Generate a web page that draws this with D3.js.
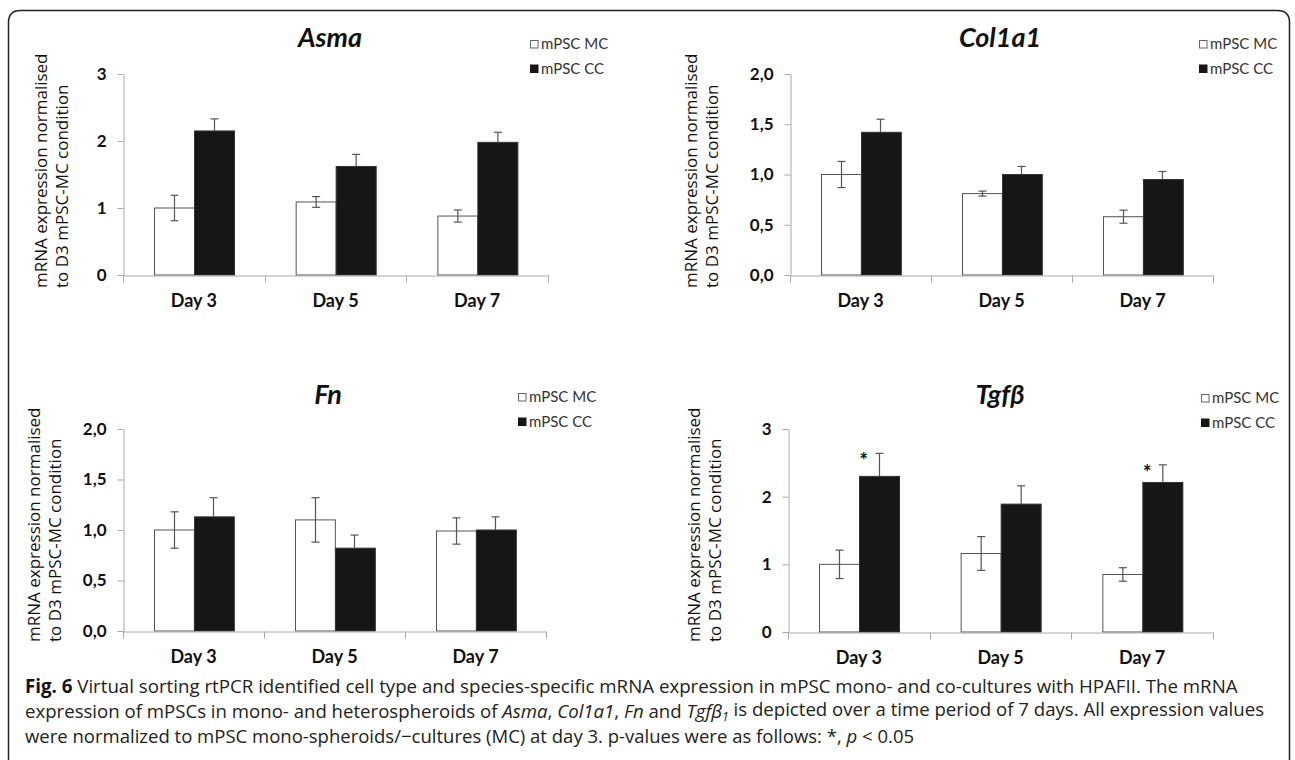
<!DOCTYPE html>
<html>
<head>
<script src="https://d3js.org/d3.v7.min.js"></script>
<style>
    body { margin: 0; background: #fff; }
    .tick text { font-family: Lato, "Open Sans", sans-serif; font-weight: bold; fill: #111; }
    .y-axis .tick text { font-size: 17px; }
    .x-axis .tick text { font-size: 18px; }
    .panel-title { font-family: Lato, sans-serif; font-weight: bold; font-style: italic; font-size: 27px; fill: #111; text-anchor: middle; }
    .legend text { font-family: Lato, sans-serif; font-size: 15px; fill: #333; }
    .y-title { font-family: "Open Sans", sans-serif; font-size: 17px; fill: #111; }
    .caption { font-family: "Open Sans", sans-serif; fill: #222; }
    .star { font-family: Lato, sans-serif; font-weight: bold; font-size: 21px; fill: #111; text-anchor: middle; }
</style>
</head>
<body>
<svg width="1295" height="760"></svg>
<script>
    // categories and series
    const days = ["Day 3", "Day 5", "Day 7"];
    const groups = ["mPSC MC", "mPSC CC"];
    const yTitle = ["mRNA expression normalised", "to D3 mPSC-MC condition"];

    // values (mean, error)
    const asmaMC = [1.00, 1.09, 0.88];
    const asmaMCErr = [0.19, 0.08, 0.09];
    const asmaCC = [2.15, 1.62, 1.98];
    const asmaCCErr = [0.18, 0.18, 0.15];

    const col1a1MC = [1.00, 0.81, 0.58];
    const col1a1MCErr = [0.13, 0.025, 0.065];
    const col1a1CC = [1.42, 1.00, 0.95];
    const col1a1CCErr = [0.13, 0.08, 0.08];

    const fnMC = [1.00, 1.10, 0.99];
    const fnMCErr = [0.18, 0.22, 0.13];
    const fnCC = [1.13, 0.82, 1.00];
    const fnCCErr = [0.19, 0.13, 0.13];

    const tgfbMC = [1.00, 1.16, 0.85];
    const tgfbMCErr = [0.21, 0.25, 0.10];
    const tgfbCC = [2.30, 1.89, 2.21];
    const tgfbCCErr = [0.34, 0.27, 0.26];
    const tgfbStars = ["Day 3", "Day 7"];

    // tick labels
    const ticks3 = [0, 1, 2, 3];
    const ticks2 = [0, 0.5, 1, 1.5, 2];

    const comma = d3.formatLocale({decimal: ",", thousands: ".", grouping: [3], currency: ["", ""]});
    const fmtInt = d3.format("d");
    const fmtDec = comma.format(".1f");

    const panels = [
        {title: "Asma", mc: asmaMC, mcErr: asmaMCErr, cc: asmaCC, ccErr: asmaCCErr, ticks: ticks3, fmt: fmtInt, stars: [],
         left: 123, right: 548, top: 74, zero: 275, titleX: 330, titleY: 47, legX: 530, legY: 44, ytX: [40, 61], ytY: 288},
        {title: "Col1a1", mc: col1a1MC, mcErr: col1a1MCErr, cc: col1a1CC, ccErr: col1a1CCErr, ticks: ticks2, fmt: fmtDec, stars: [],
         left: 790, right: 1213, top: 74, zero: 275, titleX: 1000, titleY: 47, legX: 1199, legY: 44, ytX: [690, 711], ytY: 288},
        {title: "Fn", mc: fnMC, mcErr: fnMCErr, cc: fnCC, ccErr: fnCCErr, ticks: ticks2, fmt: fmtDec, stars: [],
         left: 123, right: 546, top: 429, zero: 631, titleX: 328, titleY: 404, legX: 518, legY: 397, ytX: [33, 54], ytY: 642},
        {title: "Tgfβ", mc: tgfbMC, mcErr: tgfbMCErr, cc: tgfbCC, ccErr: tgfbCCErr, ticks: ticks3, fmt: fmtInt, stars: tgfbStars,
         left: 788, right: 1213, top: 429, zero: 632, titleX: 1000, titleY: 404, legX: 1201, legY: 398, ytX: [693, 714], ytY: 642}
    ];

    const svg = d3.select("svg");

    // rounded frame round the figure
    const fr = {l: 8.5, t: 10.5, r: 1289.5, b: 775, rad: 12};
    svg.append("path")
        .attr("d", `M${fr.l},${fr.b} V${fr.t + fr.rad} Q${fr.l},${fr.t} ${fr.l + fr.rad},${fr.t} H${fr.r - fr.rad} Q${fr.r},${fr.t} ${fr.r},${fr.t + fr.rad} V${fr.b}`)
        .attr("fill", "none")
        .attr("stroke", "#222")
        .attr("stroke-width", 1.5);

    panels.forEach(function(p) {
        const g = svg.append("g");
        const x = d3.scaleBand().domain(days).range([p.left, p.right]).padding(0);
        const inner = d3.scaleBand().domain(groups).range([0, x.bandwidth()]).paddingInner(0).paddingOuter(0.77);
        const y = d3.scaleLinear().domain([0, d3.max(p.ticks)]).range([p.zero, p.top]);

        const rows = days.map((d, i) => ({day: d, vals: [
            {grp: groups[0], v: p.mc[i], e: p.mcErr[i]},
            {grp: groups[1], v: p.cc[i], e: p.ccErr[i]}
        ]}));

        // Y axis
        const ya = g.append("g")
            .attr("class", "y-axis")
            .attr("transform", `translate(${p.left + 0.5},0)`)
            .call(d3.axisLeft(y).tickValues(p.ticks).tickFormat(p.fmt).tickSize(6).tickSizeOuter(0).tickPadding(11));
        ya.select(".domain").attr("stroke", "#a8a8a8");
        ya.selectAll(".tick line").attr("stroke", "#a8a8a8");

        // bars
        const cat = g.selectAll(".cat").data(rows).enter().append("g")
            .attr("transform", d => `translate(${x(d.day)},0)`);

        cat.selectAll("rect").data(d => d.vals).enter().append("rect")
            .attr("x", d => Math.round(inner(d.grp)) + 0.5)
            .attr("y", d => y(d.v))
            .attr("width", inner.bandwidth())
            .attr("height", d => y(0) - y(d.v))
            .attr("fill", d => d.grp === groups[0] ? "#fff" : "#161616")
            .attr("stroke", d => d.grp === groups[0] ? "#555" : "#333")
            .attr("stroke-width", 1);

        // error bars (CC only upward, lower part hidden by dark bar)
        const eb = cat.selectAll(".err").data(d => d.vals).enter().append("g")
            .attr("stroke", "#555").attr("stroke-width", 1.2);
        const cx = d => Math.round(inner(d.grp) + inner.bandwidth() / 2) + 0.5;
        const lo = d => d.grp === groups[0] ? y(d.v - d.e) : y(d.v);
        eb.append("line")
            .attr("x1", cx).attr("x2", cx)
            .attr("y1", d => y(d.v + d.e)).attr("y2", lo);
        eb.append("line")
            .attr("x1", d => cx(d) - 4).attr("x2", d => cx(d) + 4)
            .attr("y1", d => y(d.v + d.e)).attr("y2", d => y(d.v + d.e));
        eb.filter(d => d.grp === groups[0]).append("line")
            .attr("x1", d => cx(d) - 4).attr("x2", d => cx(d) + 4)
            .attr("y1", d => y(d.v - d.e)).attr("y2", d => y(d.v - d.e));

        // significance stars
        cat.filter(d => p.stars.includes(d.day))
            .append("text")
            .attr("class", "star")
            .attr("x", d => inner(groups[1]) + inner.bandwidth() / 2 - 15)
            .attr("y", d => y(d.vals[1].v + d.vals[1].e) + 15)
            .text("*");

        // X axis
        const xa = g.append("g")
            .attr("class", "x-axis")
            .attr("transform", `translate(0,${p.zero + 0.5})`)
            .call(d3.axisBottom(x).tickSize(0).tickPadding(19));
        xa.select(".domain").attr("stroke", "#a8a8a8");
        const bounds = days.map(d => x(d)).concat([x(days[days.length - 1]) + x.bandwidth()]);
        xa.selectAll(".bound").data(bounds).enter().append("line")
            .attr("x1", d => Math.round(d) + 0.5).attr("x2", d => Math.round(d) + 0.5)
            .attr("y1", 0).attr("y2", 7)
            .attr("stroke", "#a8a8a8");

        // title
        g.append("text")
            .attr("class", "panel-title")
            .attr("x", p.titleX)
            .attr("y", p.titleY)
            .text(p.title);

        // legend
        const leg = g.selectAll(".legend").data(groups).enter().append("g")
            .attr("class", "legend")
            .attr("transform", (d, i) => `translate(${p.legX},${p.legY + i * 24.5})`);
        leg.append("rect")
            .attr("x", 0.5).attr("y", -3.5)
            .attr("width", 7.5).attr("height", 7.5)
            .attr("fill", (d, i) => i === 0 ? "#fff" : "#161616")
            .attr("stroke", (d, i) => i === 0 ? "#666" : "#161616");
        leg.append("text")
            .attr("x", 11)
            .attr("y", 5)
            .text(d => d);

        // y title, two lines, start aligned at bottom
        yTitle.forEach(function(t, i) {
            g.append("text")
                .attr("class", "y-title")
                .attr("transform", `translate(${p.ytX[i]},${p.ytY}) rotate(-90)`)
                .attr("dominant-baseline", "central")
                .attr("text-anchor", "start")
                .text(t);
        });
    });

    // caption
    const capLines = [
        [{t: "Fig. 6", b: 1}, {t: " Virtual sorting rtPCR identified cell type and species-specific mRNA expression in mPSC mono- and co-cultures with HPAFII. The mRNA"}],
        [{t: "expression of mPSCs in mono- and heterospheroids of "}, {t: "Asma", i: 1}, {t: ", "}, {t: "Col1a1", i: 1}, {t: ", "}, {t: "Fn", i: 1},
         {t: " and "}, {t: "Tgfβ", i: 1}, {t: "1", i: 1, sub: 1}, {t: " is depicted over a time period of 7 days. All expression values"}],
        [{t: "were normalized to mPSC mono-spheroids/−cultures (MC) at day 3. p-values were as follows: *, "}, {t: "p", i: 1}, {t: " < 0.05"}]
    ];
    const capY = [693, 718, 743];
    const capW = [1213, 1240, 890];

    capLines.forEach(function(parts, li) {
        const txt = svg.append("text")
            .attr("class", "caption")
            .attr("x", 25)
            .attr("y", capY[li])
            .style("font-size", "16px");
        parts.forEach(function(s) {
            const ts = txt.append("tspan").text(s.t);
            if (s.b) ts.attr("font-weight", "bold").attr("fill", "#111");
            if (s.i) ts.attr("font-style", "italic");
            if (s.sub) ts.attr("font-size", "0.65em").attr("dy", "0.25em");
        });
        // fit the line to the width it takes in the figure
        const w = txt.node().getComputedTextLength();
        txt.style("font-size", (16 * capW[li] / w).toFixed(2) + "px");
        if (parts.some(s => s.sub)) {
            // back to the baseline after the subscript
            txt.selectAll("tspan").filter((d, k) => k === parts.findIndex(s => s.sub) + 1).attr("dy", "-0.25em");
        }
    });
</script>
</body>
</html>
